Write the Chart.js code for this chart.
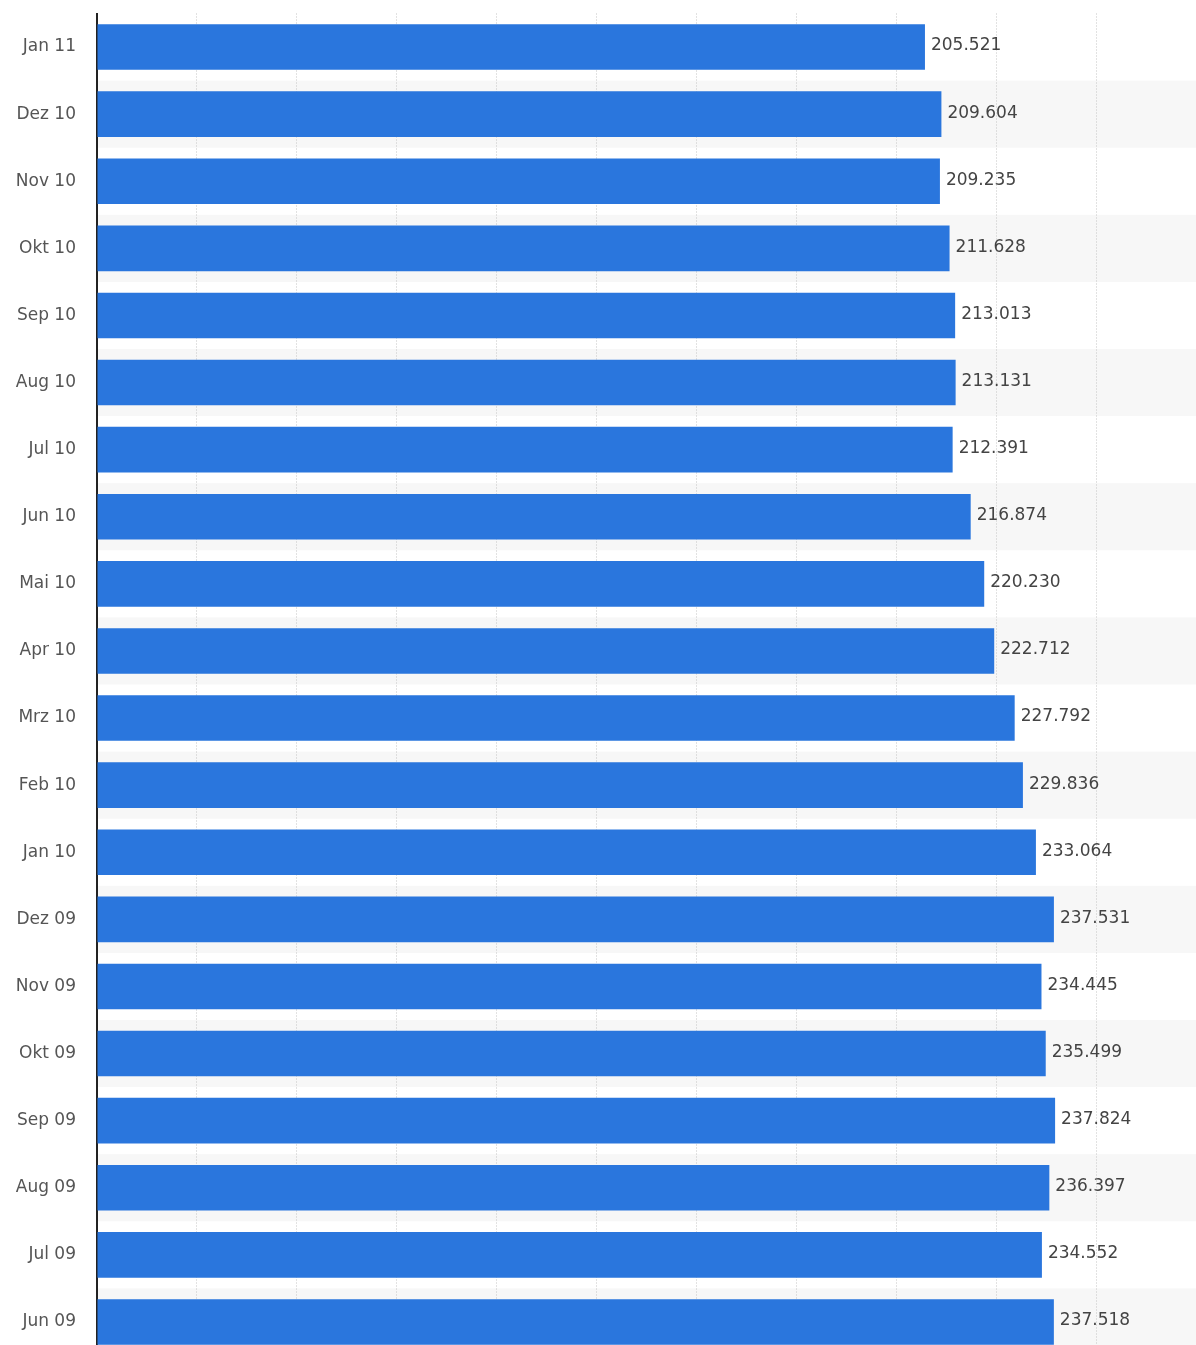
<!DOCTYPE html>
<html>
<head>
<meta charset="utf-8">
<script src="https://cdn.jsdelivr.net/npm/chart.js@4/dist/chart.umd.min.js"></script>
<style>
  html, body { margin: 0; padding: 0; background: #fff; overflow: hidden; }
  #wrap { position: relative; width: 1196px; height: 1358px; }
</style>
</head>
<body>
<div id="wrap"><canvas id="barChart"></canvas></div>
<script>
// Months, newest first (top to bottom)
const months = [
    'Jan 11', 'Dez 10', 'Nov 10', 'Okt 10', 'Sep 10', 'Aug 10', 'Jul 10',
    'Jun 10', 'Mai 10', 'Apr 10', 'Mrz 10', 'Feb 10', 'Jan 10', 'Dez 09',
    'Nov 09', 'Okt 09', 'Sep 09', 'Aug 09', 'Jul 09', 'Jun 09'
];

const values = [
    205521, 209604, 209235, 211628, 213013, 213131, 212391,
    216874, 220230, 222712, 227792, 229836, 233064, 237531,
    234445, 235499, 237824, 236397, 234552, 237518
];

const xMax = 272800;
const xStep = 25000;

const barColor = '#2a76dd';
const bandColor = '#f7f7f7';

function formatDE(n) {
    return String(n).replace(/\B(?=(\d{3})+(?!\d))/g, '.');
}

// light stripes behind every second row
const rowBands = {
    id: 'rowBands',
    beforeDraw(chart) {
        const { ctx, chartArea, scales } = chart;
        const y = scales.y;
        const step = (y.getPixelForValue(1) - y.getPixelForValue(0));
        ctx.save();
        ctx.fillStyle = bandColor;
        for (let i = 1; i < months.length; i += 2) {
            const c = y.getPixelForValue(i);
            ctx.fillRect(chartArea.left, c - step / 2, chartArea.right - chartArea.left, step);
        }
        ctx.restore();
    }
};

// value text right of each bar
const valueLabels = {
    id: 'valueLabels',
    afterDatasetsDraw(chart) {
        const { ctx } = chart;
        const meta = chart.getDatasetMeta(0);
        ctx.save();
        ctx.font = "17px 'DejaVu Sans', sans-serif";
        ctx.fillStyle = '#444';
        ctx.textAlign = 'left';
        ctx.textBaseline = 'middle';
        meta.data.forEach((bar, i) => {
            ctx.fillText(formatDE(values[i]), bar.x + 6, bar.y - 1);
        });
        ctx.restore();
    }
};

const ctx = document.getElementById('barChart').getContext('2d');
new Chart(ctx, {
    type: 'bar',
    data: {
        labels: months,
        datasets: [{
            data: values,
            backgroundColor: barColor,
            borderWidth: 0,
            categoryPercentage: 1,
            barPercentage: 0.68
        }]
    },
    options: {
        indexAxis: 'y',
        responsive: true,
        maintainAspectRatio: false,
        animation: false,
        layout: { padding: { top: 13.5, bottom: 2.5, left: 0, right: 0 } },
        scales: {
            x: {
                min: 0,
                max: xMax,
                ticks: { display: false, stepSize: xStep },
                border: { display: false, dash: [1, 2] },
                grid: { color: '#c4c4c4', lineWidth: 1, drawTicks: false },
                afterFit(scale) {
                    scale.height = 0;
                    scale.paddingLeft = 0;
                    scale.paddingRight = 0;
                }
            },
            y: {
                ticks: {
                    color: '#555',
                    padding: 21,
                    font: { family: "'DejaVu Sans', sans-serif", size: 17 }
                },
                grid: { display: false, drawTicks: false },
                border: { display: true, color: '#222', width: 2 },
                afterFit(scale) {
                    scale.width = 97;
                    scale.paddingTop = 0;
                    scale.paddingBottom = 0;
                }
            }
        },
        plugins: {
            legend: { display: false },
            tooltip: { enabled: false }
        }
    },
    plugins: [rowBands, valueLabels]
});
</script>
</body>
</html>
